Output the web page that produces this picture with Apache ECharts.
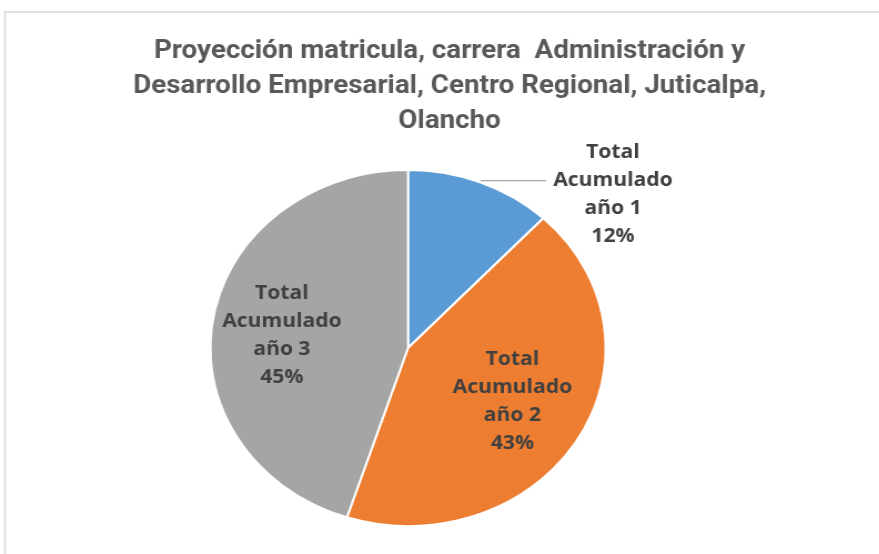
<!DOCTYPE html>
<html>
<head>
<meta charset="utf-8">
<script src="https://cdn.jsdelivr.net/npm/echarts@6/dist/echarts.min.js"></script>
<style>
  html, body { margin: 0; padding: 0; background: #fff; overflow: hidden; }
  #wrap { width: 879px; height: 554px; position: relative; overflow: hidden; }
  /* chart is laid out on a narrower canvas and widened, like the original spreadsheet graphic */
  #chart { width: 792px; height: 554px; position: absolute; left: 0; top: 0;
           transform: scaleX(1.11); transform-origin: 0 0; }
</style>
</head>
<body>
<div id="wrap"><div id="chart"></div></div>
<script>
const titleText = 'Proyección matricula, carrera  Administración y\nDesarrollo Empresarial, Centro Regional, Juticalpa,\nOlancho';
const categories = ['Total Acumulado año 1', 'Total Acumulado año 2', 'Total Acumulado año 3'];
const values = [12, 43, 45];
const colors = ['#5b9bd5', '#ed7d31', '#a5a5a5'];

const SX = 1.11;
const cx = 408 / SX, cy = 348, R = 178;
const labelFont = "'Open Sans', 'DejaVu Sans', sans-serif";

// small nudges of each label block, in screen pixels [dx, dy]
const outsideNudge = [-4, 14];
const insideNudge = [null, [-9, -7], [4, 6]];

function labelLines(p) {
  const w = p.name.split(' ');
  const lines = [w[0], w[1], w.slice(2).join(' '), Math.round(p.percent) + '%'];
  return lines.map(s => '{t|' + s + '}').join('\n');
}
const richT = { t: { width: 108, align: 'center', fontSize: 19, fontWeight: 'bold',
                     fontFamily: labelFont, color: '#404040', lineHeight: 28 } };

const chart = echarts.init(document.getElementById('chart'), null, { renderer: 'canvas' });
chart.setOption({
  animation: false,
  backgroundColor: '#fff',
  color: colors,
  graphic: [{
    type: 'rect', silent: true, z: -1,
    shape: { x: 5 / SX, y: 12, width: 1000, height: 1000 },
    style: { fill: 'none', stroke: '#d9d9d9', lineWidth: 1.6 }
  }],
  title: {
    text: titleText,
    left: 400, top: 29, textAlign: 'center',
    textStyle: { fontFamily: "'Roboto', sans-serif", fontSize: 25,
                 fontWeight: 'bold', color: '#595959', lineHeight: 35 }
  },
  series: [
    {
      type: 'pie', center: [cx, cy], radius: [0, R], startAngle: 90, clockwise: true,
      silent: true,
      itemStyle: { borderColor: '#fff', borderWidth: 2 },
      label: { show: false },
      labelLine: { show: false },
      labelLayout: function (p) {
        if (p.dataIndex !== 0) return {};
        return { dx: outsideNudge[0] / SX, dy: outsideNudge[1], labelLinePoints: p.labelLinePoints };
      },
      data: categories.map((n, i) => i === 0 ? {
        name: n, value: values[i],
        label: { show: true, position: 'outside', formatter: labelLines, rich: richT,
                 distanceToLabelLine: 10 },
        labelLine: { show: true, length: 2, length2: 58, smooth: false,
                     lineStyle: { color: '#a6a6a6', width: 1.2 } }
      } : { name: n, value: values[i] })
    },
    {
      // transparent overlay carrying the inside labels further out from the centre
      type: 'pie', center: [cx, cy], radius: [0, R * 1.3], startAngle: 90, clockwise: true,
      silent: true, z: 3,
      itemStyle: { color: 'rgba(0,0,0,0)' },
      labelLine: { show: false },
      label: { show: true, position: 'inside', formatter: labelLines, rich: richT },
      labelLayout: function (p) {
        const n = insideNudge[p.dataIndex];
        return n ? { dx: n[0] / SX, dy: n[1] } : {};
      },
      data: categories.map((n, i) => i === 0
        ? { name: n, value: values[i], label: { show: false } }
        : { name: n, value: values[i] })
    }
  ]
});
</script>
</body>
</html>
